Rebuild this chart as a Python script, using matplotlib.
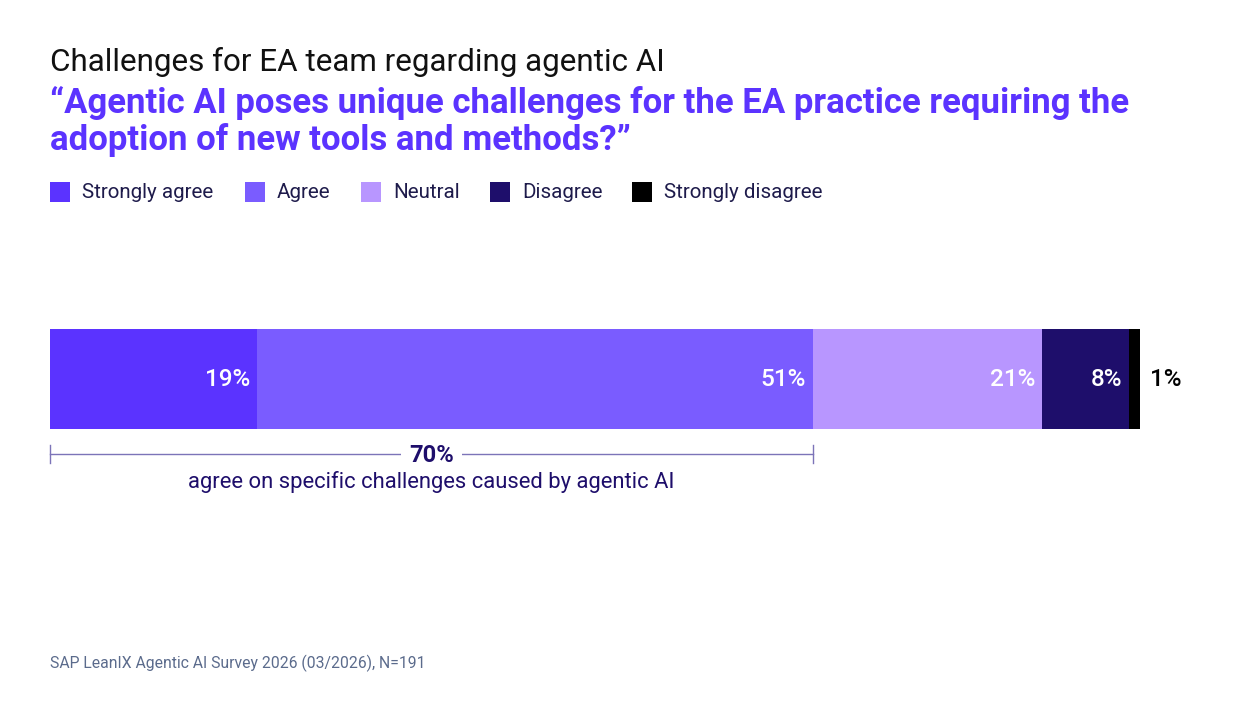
import matplotlib
matplotlib.use("Agg")
import matplotlib.pyplot as plt
from matplotlib.patches import Rectangle

categories = ["Strongly agree", "Agree", "Neutral", "Disagree", "Strongly disagree"]
values = [19, 51, 21, 8, 1]
colors = ["#5B33FF", "#7A5CFF", "#B896FF", "#1E0E6B", "#000000"]
agree_total = 70

plt.rcParams['font.family'] = ['Roboto', 'DejaVu Sans']

W, H = 1240, 720
fig = plt.figure(figsize=(W / 100, H / 100), dpi=100)
fig.patch.set_facecolor("white")

def fx(px):
    return px / W

def fy(py):
    return 1 - py / H

# Titles
fig.text(fx(50), fy(62), "Challenges for EA team regarding agentic AI", fontsize=22.6,
         color="#111111", va="center", ha="left")
fig.text(fx(50), fy(103), "\u201cAgentic AI poses unique challenges for the EA practice requiring the",
         fontsize=25, fontweight="bold", color="#5B33FF", va="center", ha="left")
fig.text(fx(50), fy(140), "adoption of new tools and methods?\u201d",
         fontsize=25, fontweight="bold", color="#5B33FF", va="center", ha="left")

# Legend
sq_x = [50, 245, 361, 490, 632]
for cat, col, x in zip(categories, colors, sq_x):
    fig.patches.append(Rectangle((fx(x), fy(202)), 20 / W, 20 / H, transform=fig.transFigure,
                                 facecolor=col, edgecolor="none"))
    fig.text(fx(x + 32), fy(192), cat, fontsize=14.8, color="#1E1B4B", va="center", ha="left")

# Bar axes: x 50..1140 px, y 329..500 px
ax = fig.add_axes([fx(50), fy(500), 1090 / W, (500 - 329) / H])
ax.set_xlim(0, sum(values))
ax.set_ylim(500, 329)
ax.axis("off")

left = 0
for v, c in zip(values, colors):
    ax.barh(379, v, height=100, left=left, color=c, edgecolor="none")
    if v >= 5:
        ax.annotate(f"{v}%", (left + v, 380), xytext=(-5, 0), textcoords="offset points",
                    ha="right", va="center", color="white", fontsize=17.5, fontweight="medium")
    else:
        ax.annotate(f"{v}%", (left + v, 380), xytext=(7, 0), textcoords="offset points",
                    ha="left", va="center", color="#000000", fontsize=17.5, fontweight="medium")
    left += v

# Bracket for agree total
line_col = "#7C74B8"
ax.plot([0, agree_total], [454, 454], color=line_col, lw=1, clip_on=False)
ax.plot([0, 0], [445, 463], color=line_col, lw=1, clip_on=False)
ax.plot([agree_total, agree_total], [445, 463], color=line_col, lw=1, clip_on=False)
ax.text(agree_total / 2, 455, f"{agree_total}%", ha="center", va="center", fontsize=17,
        fontweight="bold", color="#1E0E6B",
        bbox=dict(facecolor="white", edgecolor="none", pad=6))
ax.text(agree_total / 2, 482, "agree on specific challenges caused by agentic AI", ha="center",
        va="center", fontsize=15.8, color="#1E0E6B")

# Footnote
fig.text(fx(50), fy(663), "SAP LeanIX Agentic AI Survey 2026 (03/2026), N=191", fontsize=11.3,
         color="#5B6B8C", va="center", ha="left")

fig.savefig("out.png", dpi=100, facecolor="white")
